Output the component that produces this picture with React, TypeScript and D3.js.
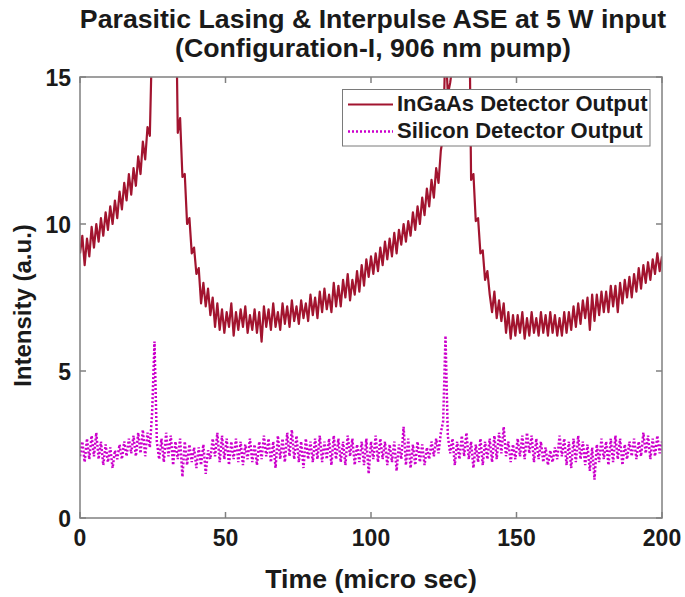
import React from "react";
import * as d3 from "d3";

// Sample spacing of both traces (micro sec)
const timeStep = 0.8;

const xTicks = [0, 50, 100, 150, 200];
const yTicks = [0, 5, 10, 15];

const titleLines = [
  "Parasitic Lasing & Interpulse ASE at 5 W input",
  "(Configuration-I, 906 nm pump)",
];
const xLabel = "Time (micro sec)";
const yLabel = "Intensity (a.u.)";
const seriesNames = ["InGaAs Detector Output", "Silicon Detector Output"];

// InGaAs detector output, one value every 0.8 micro sec from 0 to 200
const ingaas = [
  9.0, 9.6, 8.6, 9.5, 8.9, 9.9, 9.2, 10.0, 9.4, 10.2,
  9.6, 10.4, 9.8, 10.6, 10.0, 10.8, 10.2, 11.1, 10.5, 11.4,
  10.8, 11.7, 11.0, 11.9, 11.3, 12.3, 11.7, 12.8, 12.2, 13.3,
  13.0, 16.5, 21, 26, 30, 30, 29, 27, 25, 23,
  21, 19, 13.1, 13.6, 11.6, 11.7, 10.0, 10.2, 9.0, 9.2,
  8.3, 8.5, 7.3, 8.0, 7.2, 7.8, 6.9, 7.5, 6.5, 7.3,
  6.4, 7.1, 6.3, 7.0, 6.5, 7.3, 6.2, 7.0, 6.4, 7.1,
  6.5, 7.2, 6.3, 6.9, 6.4, 7.1, 6.3, 7.0, 6.0, 7.2,
  6.5, 7.1, 6.4, 7.3, 6.5, 7.0, 6.4, 7.3, 6.6, 7.2,
  6.5, 7.4, 6.7, 7.2, 6.6, 7.4, 6.8, 7.3, 6.7, 7.6,
  6.9, 7.5, 6.8, 7.7, 7.0, 7.8, 7.1, 7.6, 7.0, 8.0,
  7.2, 7.9, 7.2, 8.1, 7.5, 8.3, 7.4, 8.1, 7.6, 8.4,
  7.7, 8.6, 7.9, 8.8, 8.2, 8.9, 8.3, 9.0, 8.4, 9.2,
  8.6, 9.4, 8.8, 9.5, 8.9, 9.7, 9.0, 9.8, 9.3, 10.0,
  9.4, 10.1, 9.6, 10.4, 9.8, 10.6, 10.0, 10.9, 10.3, 11.2,
  10.6, 11.5, 10.9, 11.9, 11.4, 12.5, 13.0, 16.2, 14.4, 14.8,
  15.4, 20, 26, 29, 28, 25, 22, 19, 11.5, 11.7,
  10.1, 10.2, 9.0, 9.1, 8.1, 8.4, 7.6, 7.0, 7.7, 6.8,
  7.4, 6.7, 7.3, 6.3, 7.0, 6.1, 6.9, 6.2, 6.9, 6.3,
  7.0, 6.1, 6.8, 6.2, 7.0, 6.3, 6.8, 6.2, 7.0, 6.3,
  6.9, 6.2, 7.0, 6.3, 6.9, 6.2, 6.8, 6.2, 7.0, 6.3,
  7.0, 6.4, 7.2, 6.5, 7.3, 6.6, 7.4, 6.8, 7.5, 6.4,
  7.6, 6.7, 7.6, 6.9, 7.7, 7.0, 7.7, 7.0, 7.9, 7.2,
  7.9, 7.0, 8.0, 7.3, 8.1, 7.5, 8.2, 7.5, 8.3, 7.7,
  8.5, 7.8, 8.6, 8.0, 8.7, 8.1, 8.8, 8.3, 9.0, 8.4,
  8.9,
];

// Silicon detector output, one value every 0.8 micro sec from 0 to 200
const silicon = [
  2.1, 2.6, 1.9, 2.7, 2.0, 2.8, 2.1, 2.9, 2.0, 2.6,
  1.8, 2.5, 1.9, 2.4, 1.7, 2.3, 2.0, 2.5, 2.0, 2.6,
  2.1, 2.7, 2.2, 2.8, 2.1, 2.9, 2.2, 3.0, 2.1, 2.9,
  2.4, 3.6, 6.0, 2.6, 2.0, 2.7, 1.9, 2.9, 2.1, 2.8,
  1.8, 2.6, 2.0, 2.7, 1.4, 2.6, 1.8, 2.5, 1.9, 2.4,
  1.7, 2.4, 1.8, 2.5, 1.5, 2.3, 2.0, 2.7, 2.1, 2.9,
  1.9, 2.8, 2.0, 2.7, 1.8, 2.6, 2.0, 2.7, 1.9, 2.6,
  1.8, 2.5, 2.0, 2.7, 1.9, 2.5, 1.8, 2.6, 2.0, 2.8,
  2.1, 2.7, 1.9, 2.6, 1.7, 2.8, 2.0, 2.7, 1.9, 2.9,
  2.1, 3.0, 2.0, 2.8, 1.9, 2.6, 1.7, 2.7, 2.0, 2.6,
  1.9, 2.7, 2.0, 2.8, 1.9, 2.6, 2.0, 2.7, 1.8, 2.8,
  2.0, 2.7, 1.9, 2.6, 1.8, 2.8, 2.1, 2.7, 1.8, 2.5,
  1.9, 2.6, 1.8, 2.7, 1.5, 2.6, 2.0, 2.8, 1.9, 2.7,
  2.0, 2.6, 1.8, 2.5, 1.9, 2.6, 1.6, 2.5, 2.0, 3.1,
  1.8, 2.7, 1.7, 2.5, 1.8, 2.6, 1.9, 2.5, 1.8, 2.4,
  2.0, 2.6, 2.1, 2.7, 2.2, 2.9, 3.3, 6.2, 2.8, 2.2,
  2.7, 1.8, 2.6, 2.0, 2.8, 2.1, 2.9, 2.0, 2.6, 1.7,
  2.5, 1.9, 2.7, 1.8, 2.6, 2.0, 2.7, 1.9, 2.8, 2.0,
  2.9, 2.2, 3.1, 2.1, 2.6, 1.9, 2.5, 2.0, 2.7, 2.1,
  2.8, 2.0, 2.9, 2.2, 2.8, 1.9, 2.7, 2.0, 2.6, 1.9,
  2.4, 1.8, 2.3, 1.9, 2.4, 2.0, 2.8, 2.1, 2.7, 1.8,
  2.6, 1.7, 2.7, 1.9, 2.8, 2.0, 2.6, 1.8, 2.5, 1.6,
  2.4, 1.3, 2.5, 1.9, 2.7, 2.0, 2.6, 1.8, 2.7, 1.9,
  2.8, 2.0, 2.7, 1.8, 2.5, 2.0, 2.6, 2.1, 2.7, 2.0,
  2.6, 2.1, 2.9, 2.2, 2.8, 2.0, 2.7, 2.1, 2.8, 2.2,
  2.6,
];

const W = 685;
const H = 597;
const plot = { left: 80, right: 662, top: 77, bottom: 518 };
const axisColor = "#808080";
const textColor = "#1a1a1a";
const redColor = "#A2142F";
const magColor = "#CC00CC";
const font = "'Liberation Sans', Arial, Helvetica, sans-serif";

export default function App() {
  const x = d3.scaleLinear().domain([0, 200]).range([plot.left, plot.right]);
  const y = d3.scaleLinear().domain([0, 15]).range([plot.bottom, plot.top]);
  const line = d3
    .line<number>()
    .x((_, i) => x(i * timeStep))
    .y((d) => y(d));

  const tickLen = 6;
  const cx = (plot.left + plot.right) / 2;
  const cy = (plot.top + plot.bottom) / 2;

  return (
    <svg
      width={W}
      height={H}
      viewBox={`0 0 ${W} ${H}`}
      style={{ position: "absolute", left: 0, top: 0, background: "#fff" }}
      fontFamily={font}
    >
      <defs>
        <clipPath id="plotClip">
          <rect
            x={plot.left}
            y={plot.top}
            width={plot.right - plot.left}
            height={plot.bottom - plot.top}
          />
        </clipPath>
      </defs>
      <rect x={0} y={0} width={W} height={H} fill="#fff" />

      {/* title */}
      {titleLines.map((t, i) => (
        <text
          key={i}
          x={cx + 2}
          y={28 + i * 29}
          textAnchor="middle"
          fontSize={26.7}
          fontWeight="bold"
          fill={textColor}
        >
          {t}
        </text>
      ))}

      {/* data */}
      <g clipPath="url(#plotClip)">
        <path
          d={line(silicon) || ""}
          fill="none"
          stroke={magColor}
          strokeWidth={2.5}
          strokeDasharray="2 2"
        />
        <path
          d={line(ingaas) || ""}
          fill="none"
          stroke={redColor}
          strokeWidth={2.2}
          strokeLinejoin="round"
        />
      </g>

      {/* axes box */}
      <rect
        x={plot.left}
        y={plot.top}
        width={plot.right - plot.left}
        height={plot.bottom - plot.top}
        fill="none"
        stroke={axisColor}
        strokeWidth={1.5}
      />
      {xTicks.map((t) => (
        <g key={"xt" + t}>
          <line x1={x(t)} x2={x(t)} y1={plot.bottom} y2={plot.bottom - tickLen} stroke={axisColor} strokeWidth={1.5} />
          <line x1={x(t)} x2={x(t)} y1={plot.top} y2={plot.top + tickLen} stroke={axisColor} strokeWidth={1.5} />
          <text
            x={x(t)}
            y={plot.bottom + 28}
            textAnchor="middle"
            fontSize={23}
            fontWeight="bold"
            fill={textColor}
          >
            {t}
          </text>
        </g>
      ))}
      {yTicks.map((t) => (
        <g key={"yt" + t}>
          <line x1={plot.left} x2={plot.left + tickLen} y1={y(t)} y2={y(t)} stroke={axisColor} strokeWidth={1.5} />
          <line x1={plot.right} x2={plot.right - tickLen} y1={y(t)} y2={y(t)} stroke={axisColor} strokeWidth={1.5} />
          <text
            x={plot.left - 9}
            y={y(t) + 8.5}
            textAnchor="end"
            fontSize={23}
            fontWeight="bold"
            fill={textColor}
          >
            {t}
          </text>
        </g>
      ))}

      {/* axis labels */}
      <text
        x={cx}
        y={588}
        textAnchor="middle"
        fontSize={26.7}
        fontWeight="bold"
        fill={textColor}
      >
        {xLabel}
      </text>
      <text
        transform={`translate(31,${cy + 8}) rotate(-90)`}
        textAnchor="middle"
        fontSize={24}
        fontWeight="bold"
        fill={textColor}
      >
        {yLabel}
      </text>

      {/* legend */}
      <g>
        <rect x={342.5} y={89.5} width={307.5} height={56.5} fill="#fff" stroke="#7a7a7a" strokeWidth={1} />
        <line x1={348} x2={393} y1={104.5} y2={104.5} stroke={redColor} strokeWidth={2} />
        <line x1={348} x2={393} y1={131.5} y2={131.5} stroke={magColor} strokeWidth={2.5} strokeDasharray="2 2" />
        <text x={397} y={111} fontSize={22} fontWeight="bold" fill={textColor}>
          {seriesNames[0]}
        </text>
        <text x={397} y={138.3} fontSize={22} fontWeight="bold" fill={textColor}>
          {seriesNames[1]}
        </text>
      </g>
    </svg>
  );
}
